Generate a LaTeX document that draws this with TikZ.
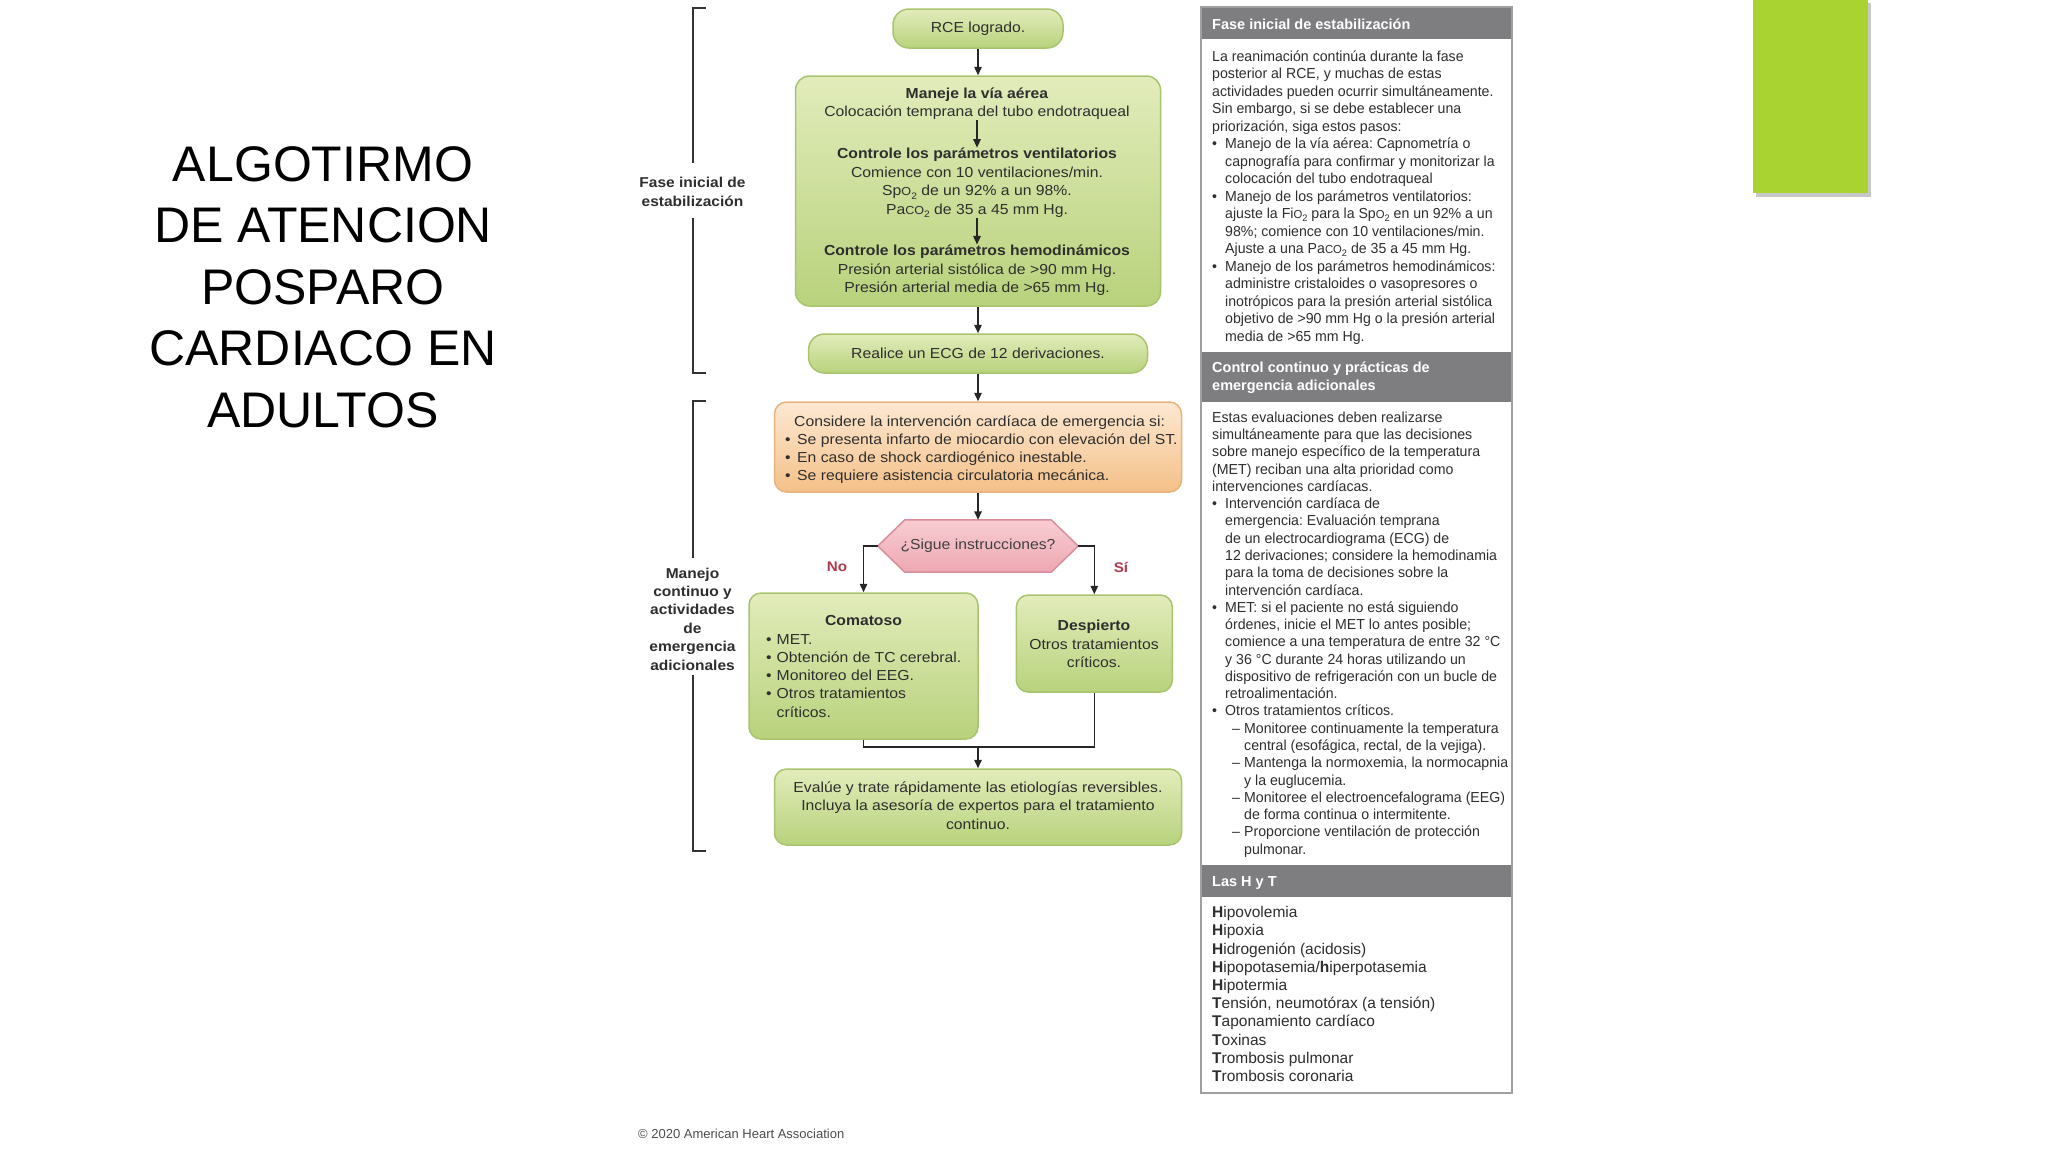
\documentclass[tikz,border=0pt]{standalone}
\usepackage{fontspec}
\usepackage{graphicx}
\setmainfont{Liberation Sans}
\newfontfamily\flowfont[FakeStretch=1.085]{Liberation Sans}
\newfontfamily\panelfont[FakeStretch=0.975]{Liberation Sans}
\usetikzlibrary{arrows.meta}
\frenchspacing
\definecolor{gtop}{HTML}{E2ECBB}
\definecolor{gbot}{HTML}{B8D27C}
\definecolor{gline}{HTML}{A9C46E}
\definecolor{otop}{HTML}{FCE8D2}
\definecolor{obot}{HTML}{F4C088}
\definecolor{oline}{HTML}{E8B47E}
\definecolor{ptop}{HTML}{F8CCD2}
\definecolor{pbot}{HTML}{EEA8B3}
\definecolor{pline}{HTML}{D88E9C}
\definecolor{txt}{HTML}{2E2E2E}
\definecolor{band}{HTML}{7E7E81}
\definecolor{pborder}{HTML}{A0A0A0}
\definecolor{lime}{HTML}{A9D331}
\definecolor{nored}{HTML}{B03A50}
\newcommand\myfs[2]{\fontsize{#1}{#2}\selectfont}
\newcommand\smO{\scalebox{0.8}{O}}
\newcommand\smCO{\scalebox{0.8}{CO}}
\newcommand\subtwo{\raisebox{-0.22em}{\scalebox{0.65}{2}}}
\newcommand\mybul[1]{\makebox[#1][l]{•}}
\newcommand\mydash{\hspace*{20pt}\makebox[12pt][l]{–}}
\newcommand\myind[1]{\hspace*{#1}}
\newcommand\firststrut{\rule{0pt}{12pt}}
\begin{document}
\begin{tikzpicture}[x=1pt,y=-1pt,
  arr/.style={draw=black!85, line width=1.4pt, -{Triangle[length=8.5pt,width=7.5pt]}},
  joinline/.style={draw=black!85, line width=1.4pt},
  gbox/.style={draw=gline, line width=1.5pt, rounded corners=12pt, top color=gtop, bottom color=gbot, inner sep=0pt},
  obox/.style={draw=oline, line width=1.5pt, rounded corners=12pt, top color=otop, bottom color=obot, inner sep=0pt},
  ftxt/.style={font=\flowfont\myfs{14.5}{18.5}, text=txt, align=center, inner sep=0.5pt},
  ltxt/.style={font=\flowfont\myfs{14.5}{18.2}, text=txt, align=left, inner sep=0pt},
  ptxt/.style={font=\panelfont\myfs{14.5}{17.5}, text=txt, align=left, inner sep=0pt},
  htxt/.style={font=\myfs{14.5}{18}\bfseries, text=white, align=left, inner sep=0pt},
  brk/.style={draw=black!80, line width=2pt},
  blab/.style={font=\flowfont\myfs{14.3}{18.4}\bfseries, text=txt, align=center, inner sep=0pt},
  ynlab/.style={font=\flowfont\myfs{14}{16}\bfseries, text=nored, inner sep=0pt}
]
\fill[white] (0,0) rectangle (2048,1152);
\useasboundingbox (0,0) rectangle (2048,1152);

% lime decoration
\fill[black!22] (1756,3) rectangle (1871,197);
\fill[lime] (1753,0) rectangle (1868,193);

% title
\node[font=\myfs{50}{61.5}, align=center, inner sep=0pt] (title) at (323,287)
  {ALGOTIRMO\\DE ATENCION\\POSPARO\\CARDIACO EN\\ADULTOS};

% brackets
\draw[brk] (705.5,8) -- (692.5,8) -- (692.5,163);
\draw[brk] (692.5,218) -- (692.5,373) -- (705.5,373);
\node[blab] (lab1) at (692.5,192) {Fase inicial de\\estabilización};
\draw[brk] (705.5,401) -- (692.5,401) -- (692.5,558);
\draw[brk] (692.5,675) -- (692.5,851) -- (705.5,851);
\node[blab] (lab2) at (692.5,619) {Manejo\\continuo y\\actividades\\de\\emergencia\\adicionales};

% flowchart
\node[gbox, ftxt, inner sep=0pt, rounded corners=16pt, minimum width=170pt, minimum height=39pt] (rce) at (978,28.5) {RCE logrado.};
\node[gbox, minimum width=365pt, minimum height=230pt, rounded corners=14pt] (airway) at (978,191) {};
\node[ftxt] (g1) at (977,103.5) {\textbf{Maneje la vía aérea}\\Colocación temprana del tubo endotraqueal};
\node[ftxt] (g2) at (977,183) {\textbf{Controle los parámetros ventilatorios}\\Comience con 10 ventilaciones/min.\\Sp\smO\subtwo{} de un 92\% a un 98\%.\\Pa\smCO\subtwo{} de 35 a 45 mm Hg.};
\node[ftxt] (g3) at (977,270.5) {\textbf{Controle los parámetros hemodinámicos}\\Presión arterial sistólica de >90 mm Hg.\\Presión arterial media de >65 mm Hg.};
\draw[arr] (g1.south) -- (g2.north);
\draw[arr] (g2.south) -- (g3.north);

\node[gbox, ftxt, inner sep=0pt, rounded corners=16pt, minimum width=339pt, minimum height=39pt] (ecg) at (978,353.5) {Realice un ECG de 12 derivaciones.};

\node[obox, minimum width=407pt, minimum height=90pt] (cons) at (978,447) {};
\node[ltxt, font=\flowfont\myfs{14.5}{18}, anchor=north west] (consT) at (785,414)
  {\firststrut\myind{9pt}Considere la intervención cardíaca de emergencia si:\\
   \mybul{12pt}Se presenta infarto de miocardio con elevación del ST.\\
   \mybul{12pt}En caso de shock cardiogénico inestable.\\
   \mybul{12pt}Se requiere asistencia circulatoria mecánica.};

\node[minimum width=200pt, minimum height=52pt, inner sep=0pt] (hex) at (978,546) {};
\path[draw=pline, line width=1.5pt, top color=ptop, bottom color=pbot]
  (hex.west) -- ([xshift=27pt]hex.north west) -- ([xshift=-27pt]hex.north east) --
  (hex.east) -- ([xshift=-27pt]hex.south east) -- ([xshift=27pt]hex.south west) -- cycle;
\node[ftxt, text=black!75] (hexT) at (hex.center) {¿Sigue instrucciones?};

\node[gbox, minimum width=229pt, minimum height=146pt] (coma) at (863.5,666) {};
\node[ftxt, anchor=base] (comaT) at (863.5,625) {\textbf{Comatoso}};
\node[ltxt, anchor=north west] (comaL) at (766,632)
  {\firststrut\mybul{10.5pt}MET.\\
   \mybul{10.5pt}Obtención de TC cerebral.\\
   \mybul{10.5pt}Monitoreo del EEG.\\
   \mybul{10.5pt}Otros tratamientos\\
   \myind{10.5pt}críticos.};

\node[gbox, minimum width=156pt, minimum height=97pt] (desp) at (1094.3,643.5) {};
\node[ftxt] (despT) at (1094,644) {\textbf{Despierto}\\Otros tratamientos\\críticos.};

\node[gbox, minimum width=407pt, minimum height=76pt] (final) at (978,807) {};
\node[ftxt] (finalT) at (978,805.5) {Evalúe y trate rápidamente las etiologías reversibles.\\Incluya la asesoría de expertos para el tratamiento\\continuo.};

\draw[arr] (rce.south) -- (airway.north);
\draw[arr] (airway.south) -- (ecg.north);
\draw[arr] (ecg.south) -- (cons.north);
\draw[arr] (cons.south) -- (hex.north);
\draw[arr] (hex.west) -| (coma.north);
\draw[arr] (hex.east) -| (desp.north);
\coordinate (jn) at (978,747);
\draw[joinline] (coma.south) |- (jn) -| (desp.south);
\draw[arr] (jn) -- (final.north);
\node[ynlab] (no) at (837,567) {No};
\node[ynlab] (si) at (1121,567) {Sí};

% right panel
\fill[band] (1201,7) rectangle (1512,39);
\fill[band] (1201,352) rectangle (1512,402);
\fill[band] (1201,865) rectangle (1512,897);
\draw[pborder, line width=1.5pt] (1201,7) rectangle (1512,1093);

\node[htxt, anchor=base west] (h1) at (1212,29) {Fase inicial de estabilización};
\node[htxt, anchor=north west] (h2) at (1212,360.5) {\firststrut Control continuo y prácticas de\\emergencia adicionales};
\node[htxt, anchor=base west] (h3) at (1212,886) {Las H y T};

\node[ptxt, anchor=north west] (s1) at (1212,49)
 {\firststrut La reanimación continúa durante la fase\\
  posterior al RCE, y muchas de estas\\
  actividades pueden ocurrir simultáneamente.\\
  Sin embargo, si se debe establecer una\\
  priorización, siga estos pasos:\\
  \mybul{13pt}Manejo de la vía aérea: Capnometría o\\
  \myind{13pt}capnografía para confirmar y monitorizar la\\
  \myind{13pt}colocación del tubo endotraqueal\\
  \mybul{13pt}Manejo de los parámetros ventilatorios:\\
  \myind{13pt}ajuste la Fi\smO\subtwo{} para la Sp\smO\subtwo{} en un 92\% a un\\
  \myind{13pt}98\%; comience con 10 ventilaciones/min.\\
  \myind{13pt}Ajuste a una Pa\smCO\subtwo{} de 35 a 45 mm Hg.\\
  \mybul{13pt}Manejo de los parámetros hemodinámicos:\\
  \myind{13pt}administre cristaloides o vasopresores o\\
  \myind{13pt}inotrópicos para la presión arterial sistólica\\
  \myind{13pt}objetivo de >90 mm Hg o la presión arterial\\
  \myind{13pt}media de >65 mm Hg.};

\node[ptxt, font=\panelfont\myfs{14.5}{17.28}, anchor=north west] (s2) at (1212,410)
 {\firststrut Estas evaluaciones deben realizarse\\
  simultáneamente para que las decisiones\\
  sobre manejo específico de la temperatura\\
  (MET) reciban una alta prioridad como\\
  intervenciones cardíacas.\\
  \mybul{13pt}Intervención cardíaca de\\
  \myind{13pt}emergencia: Evaluación temprana\\
  \myind{13pt}de un electrocardiograma (ECG) de\\
  \myind{13pt}12 derivaciones; considere la hemodinamia\\
  \myind{13pt}para la toma de decisiones sobre la\\
  \myind{13pt}intervención cardíaca.\\
  \mybul{13pt}MET: si el paciente no está siguiendo\\
  \myind{13pt}órdenes, inicie el MET lo antes posible;\\
  \myind{13pt}comience a una temperatura de entre 32 °C\\
  \myind{13pt}y 36 °C durante 24 horas utilizando un\\
  \myind{13pt}dispositivo de refrigeración con un bucle de\\
  \myind{13pt}retroalimentación.\\
  \mybul{13pt}Otros tratamientos críticos.\\
  \mydash Monitoree continuamente la temperatura\\
  \myind{32pt}central (esofágica, rectal, de la vejiga).\\
  \mydash Mantenga la normoxemia, la normocapnia\\
  \myind{32pt}y la euglucemia.\\
  \mydash Monitoree el electroencefalograma (EEG)\\
  \myind{32pt}de forma continua o intermitente.\\
  \mydash Proporcione ventilación de protección\\
  \myind{32pt}pulmonar.};

\node[ptxt, font=\myfs{15.5}{18.2}, anchor=north west] (s3) at (1212,905.5)
 {\firststrut\textbf{H}ipovolemia\\
  \textbf{H}ipoxia\\
  \textbf{H}idrogenión (acidosis)\\
  \textbf{H}ipopotasemia/\textbf{h}iperpotasemia\\
  \textbf{H}ipotermia\\
  \textbf{T}ensión, neumotórax (a tensión)\\
  \textbf{T}aponamiento cardíaco\\
  \textbf{T}oxinas\\
  \textbf{T}rombosis pulmonar\\
  \textbf{T}rombosis coronaria};

\node[anchor=base west, font=\myfs{13}{15}, text=black!70, inner sep=0pt] (foot) at (638,1138) {© 2020 American Heart Association};
\end{tikzpicture}
\end{document}
